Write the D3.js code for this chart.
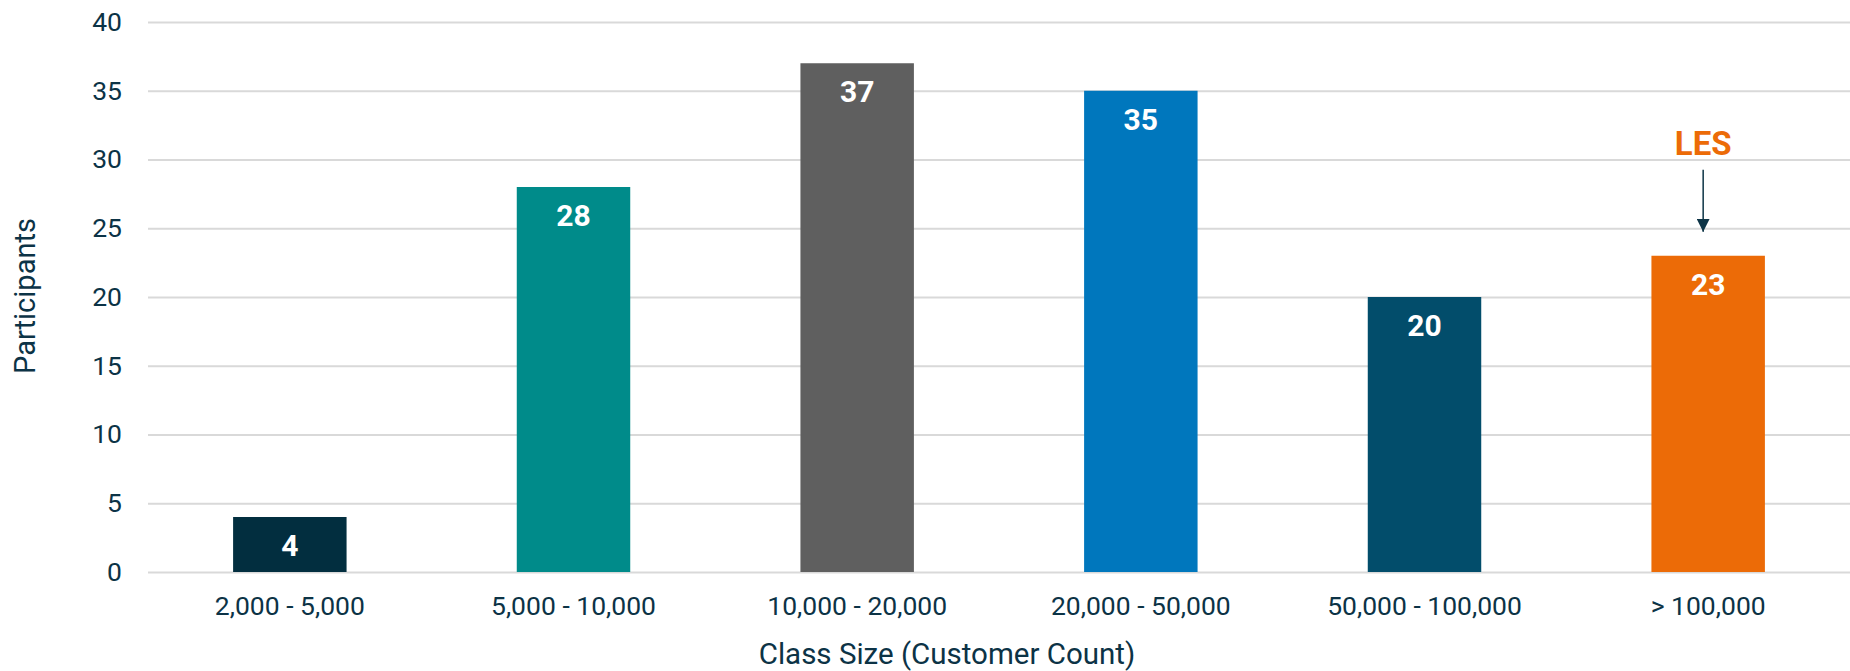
<!DOCTYPE html>
<html>
<head>
<meta charset="utf-8">
<script src="https://cdn.jsdelivr.net/npm/d3@7"></script>
<style>
  body { margin: 0; background: #fff; }
  text { font-family: Roboto, "Noto Sans", sans-serif; }
</style>
</head>
<body>
<div id="chart"></div>
<script>
// data
var categories = ["2,000 - 5,000", "5,000 - 10,000", "10,000 - 20,000", "20,000 - 50,000", "50,000 - 100,000", "> 100,000"];
var participants = [4, 28, 37, 35, 20, 23];
var barColors = ["#022e3f", "#008b8a", "#5f5f5f", "#0077bd", "#024d6b", "#ec6b07"];
var yTicks = [0, 5, 10, 15, 20, 25, 30, 35, 40];
var highlight = "> 100,000";

(function(){
  var width = 1850,
    height = 671;
  var textColor = "#0c3346";

  var svg = d3.select("#chart")
    .append("svg")
    .attr("width", width)
    .attr("height", height);

  var x = d3.scaleBand()
    .domain(categories)
    .range([148, 1850])
    .paddingInner(0.6)
    .paddingOuter(0.3);

  var y = d3.scaleLinear()
    .domain([0, 40])
    .range([572, 22]);

  // gridlines + y tick labels
  var yAxis = svg.append("g")
    .attr("transform", "translate(148,0)")
    .call(d3.axisLeft(y).tickValues(yTicks).tickSize(-(1850 - 148)).tickPadding(26));
  yAxis.select(".domain").remove();
  yAxis.selectAll(".tick line")
    .attr("stroke", "#d9d9d9")
    .attr("stroke-width", 2);
  yAxis.selectAll(".tick text")
    .attr("fill", textColor)
    .style("font-size", "26.5px")
    .style("font-family", "Roboto, sans-serif");

  // bars
  var data = categories.map(function(c, i){
    return { cat: c, value: participants[i], color: barColors[i] };
  });

  svg.selectAll(".bar")
    .data(data)
    .enter().append("rect")
    .attr("class", "bar")
    .attr("x", function(d){ return x(d.cat); })
    .attr("width", x.bandwidth())
    .attr("y", function(d){ return y(d.value); })
    .attr("height", function(d){ return y(0) - y(d.value); })
    .attr("fill", function(d){ return d.color; });

  // value labels inside bars
  svg.selectAll(".val")
    .data(data)
    .enter().append("text")
    .attr("class", "val")
    .attr("x", function(d){ return x(d.cat) + x.bandwidth() / 2; })
    .attr("y", function(d){ return y(d.value) + 39; })
    .attr("text-anchor", "middle")
    .attr("fill", "#fff")
    .style("font-size", "30px")
    .style("font-weight", "bold")
    .text(function(d){ return d.value; });

  // x labels
  svg.selectAll(".xlab")
    .data(categories)
    .enter().append("text")
    .attr("class", "xlab")
    .attr("x", function(d){ return x(d) + x.bandwidth() / 2; })
    .attr("y", 615)
    .attr("text-anchor", "middle")
    .attr("fill", textColor)
    .style("font-size", "26.5px")
    .text(function(d){ return d; });

  // axis titles
  svg.append("text")
    .attr("x", 947)
    .attr("y", 664)
    .attr("text-anchor", "middle")
    .attr("fill", textColor)
    .style("font-size", "29.5px")
    .text("Class Size (Customer Count)");

  svg.append("text")
    .attr("transform", "translate(35,296) rotate(-90)")
    .attr("text-anchor", "middle")
    .attr("fill", textColor)
    .style("font-size", "29px")
    .text("Participants");

  // LES annotation
  var hi = participants[categories.indexOf(highlight)];
  var cx = x(highlight) + x.bandwidth() / 2 - 5;

  svg.append("defs").append("marker")
    .attr("id", "arrow")
    .attr("viewBox", "0 0 10 10")
    .attr("refX", 10)
    .attr("refY", 5)
    .attr("markerWidth", 13)
    .attr("markerHeight", 13)
    .attr("markerUnits", "userSpaceOnUse")
    .attr("orient", "auto")
    .append("path")
    .attr("d", "M0,0 L10,5 L0,10 Z")
    .attr("fill", "#0d3446");

  svg.append("line")
    .attr("x1", cx).attr("x2", cx)
    .attr("y1", y(hi) - 86)
    .attr("y2", y(hi) - 24)
    .attr("stroke", "#0d3446")
    .attr("stroke-width", 1.5)
    .attr("marker-end", "url(#arrow)");

  svg.append("text")
    .attr("x", cx)
    .attr("y", y(hi) - 101)
    .attr("text-anchor", "middle")
    .attr("fill", "#ec6b07")
    .style("font-size", "33px")
    .style("font-weight", "bold")
    .text("LES");
})();
</script>
</body>
</html>
